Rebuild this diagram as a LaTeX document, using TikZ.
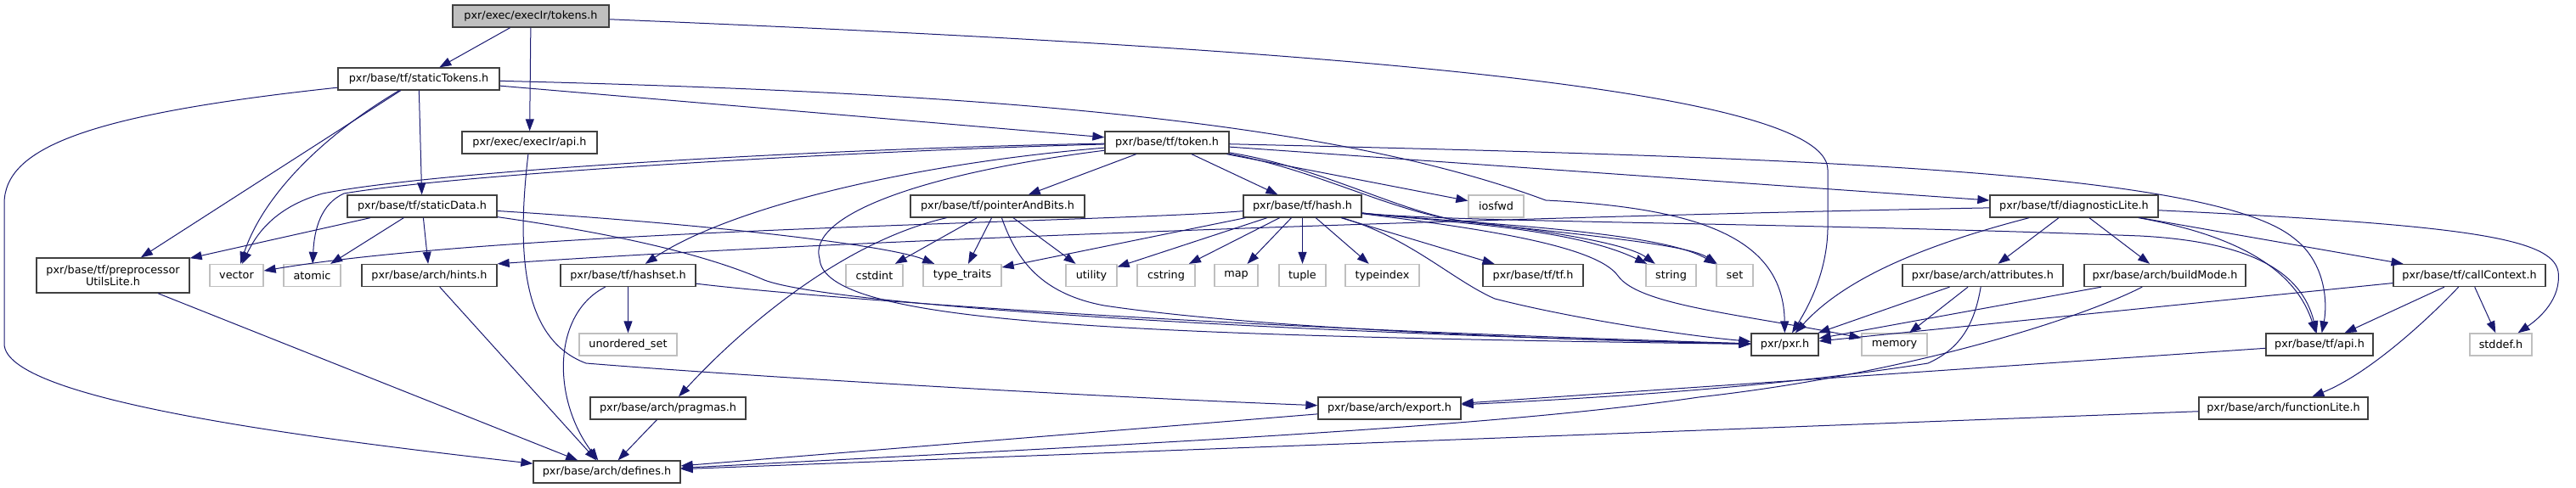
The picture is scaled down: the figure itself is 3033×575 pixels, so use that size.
\documentclass[tikz,border=0pt]{standalone}
\usepackage{fontspec}
\setmainfont{DejaVu Sans}
\usetikzlibrary{arrows.meta}
\definecolor{Edge}{HTML}{191970}
\definecolor{Border}{HTML}{404040}
\definecolor{Extern}{HTML}{BFBFBF}
\definecolor{Root}{HTML}{BFBFBF}
\tikzset{
    docfile/.style={rectangle, draw=Border, line width=1.3pt, fill=white, text=black, minimum height=26pt, inner sep=0pt, align=center, font={\fontsize{12.8}{13.5}\selectfont}},
    sysfile/.style={docfile, draw=Extern},
    rootfile/.style={docfile, fill=Root},
    incl/.style={-{Triangle[length=14pt,width=10pt]}, line width=1pt, color=Edge},
}
\begin{document}
\begin{tikzpicture}[x=1pt, y=-1pt]
    \useasboundingbox (0,0) rectangle (3033,575);

    % Files
    \node[rootfile, minimum width=184pt] (tokens) at (625,19) {pxr/exec/execIr/tokens.h};
    \node[docfile, minimum width=190pt] (statictokens) at (493,93) {pxr/base/tf/staticTokens.h};
    \node[docfile, minimum width=159pt] (execapi) at (623.5,168) {pxr/exec/execIr/api.h};
    \node[docfile, minimum width=146pt] (token) at (1374,168) {pxr/base/tf/token.h};
    \node[docfile, minimum width=176pt] (staticdata) at (497,243) {pxr/base/tf/staticData.h};
    \node[docfile, minimum width=205pt] (pointerbits) at (1174.5,243) {pxr/base/tf/pointerAndBits.h};
    \node[docfile, minimum width=139pt] (hash) at (1533.5,243) {pxr/base/tf/hash.h};
    \node[sysfile, minimum width=65pt] (iosfwd) at (1761.5,243) {iosfwd};
    \node[docfile, minimum width=198pt] (diaglite) at (2442,243) {pxr/base/tf/diagnosticLite.h};
    \node[docfile, minimum width=180pt, minimum height=41pt] (preproc) at (133,324.5) {pxr/base/tf/preprocessor\\UtilsLite.h};
    \node[sysfile, minimum width=63pt] (vector) at (278.5,324.5) {vector};
    \node[sysfile, minimum width=67pt] (atomic) at (367.5,324.5) {atomic};
    \node[docfile, minimum width=159pt] (hints) at (505.5,324.5) {pxr/base/arch/hints.h};
    \node[docfile, minimum width=159pt] (hashset) at (739.5,324.5) {pxr/base/tf/hashset.h};
    \node[sysfile, minimum width=67pt] (cstdint) at (1029.5,324.5) {cstdint};
    \node[sysfile, minimum width=92pt] (typetraits) at (1133,324.5) {type\_traits};
    \node[sysfile, minimum width=60pt] (utility) at (1285,324.5) {utility};
    \node[sysfile, minimum width=68pt] (cstring) at (1373,324.5) {cstring};
    \node[sysfile, minimum width=51pt] (map) at (1455.5,324.5) {map};
    \node[sysfile, minimum width=55pt] (tuple) at (1533.5,324.5) {tuple};
    \node[sysfile, minimum width=87pt] (typeindex) at (1627.5,324.5) {typeindex};
    \node[docfile, minimum width=118pt] (tfh) at (1805,324.5) {pxr/base/tf/tf.h};
    \node[sysfile, minimum width=59pt] (string) at (1967.5,324.5) {string};
    \node[sysfile, minimum width=43pt] (set) at (2042.5,324.5) {set};
    \node[docfile, minimum width=189pt] (attributes) at (2334.5,324.5) {pxr/base/arch/attributes.h};
    \node[docfile, minimum width=190pt] (buildmode) at (2549,324.5) {pxr/base/arch/buildMode.h};
    \node[docfile, minimum width=179pt] (callcontext) at (2907.5,324.5) {pxr/base/tf/callContext.h};
    \node[sysfile, minimum width=115pt] (unorderedset) at (739.5,406) {unordered\_set};
    \node[docfile, minimum width=79pt] (pxr) at (2101.5,406) {pxr/pxr.h};
    \node[sysfile, minimum width=77pt] (memory) at (2230.5,406) {memory};
    \node[docfile, minimum width=126pt] (tfapi) at (2731,406) {pxr/base/tf/api.h};
    \node[sysfile, minimum width=73pt] (stddef) at (2944.5,406) {stddef.h};
    \node[docfile, minimum width=183pt] (pragmas) at (786.5,481) {pxr/base/arch/pragmas.h};
    \node[docfile, minimum width=168pt] (export) at (1636,481) {pxr/base/arch/export.h};
    \node[docfile, minimum width=199pt] (functionlite) at (2688.5,481) {pxr/base/arch/functionLite.h};
    \node[docfile, minimum width=173pt] (defines) at (714.5,556) {pxr/base/arch/defines.h};

    % tokens.h
    \draw[incl] (tokens) -- (statictokens);
    \draw[incl] (tokens) -- (execapi);
    \draw[incl] (tokens) .. controls (1500,55) and (2152,100) .. (2152,200) -- (2152,270) .. controls (2151,320) and (2130,360) .. (pxr);

    % staticTokens.h
    \draw[incl] (statictokens) .. controls (100,135) and (5,175) .. (5,240) -- (5,405) .. controls (5,470) and (350,515) .. (defines);
    \draw[incl] (statictokens) -- (preproc);
    \draw[incl] (statictokens) .. controls (380,160) and (310,230) .. (vector);
    \draw[incl] (statictokens) -- (staticdata);
    \draw[incl] (statictokens) -- (token);
    \draw[incl] (statictokens) .. controls (1100,108) and (1550,135) .. (1820,236) .. controls (2000,245) and (2100,280) .. (pxr);

    % execIr/api.h
    \draw[incl] (execapi) .. controls (608,300) and (615,400) .. (690,428) .. controls (900,445) and (1300,468) .. (export);

    % staticData.h
    \draw[incl] (staticdata) -- (preproc);
    \draw[incl] (staticdata) -- (atomic);
    \draw[incl] (staticdata) -- (hints);
    \draw[incl] (staticdata) .. controls (850,265) and (1050,290) .. (typetraits);
    \draw[incl] (staticdata) .. controls (700,272) and (820,295) .. (900,330) .. controls (980,360) and (1500,392) .. (pxr);

    % token.h
    \draw[incl] (token) .. controls (1000,174) and (520,200) .. (380,228) .. controls (320,245) and (300,280) .. (vector);
    \draw[incl] (token) .. controls (1000,178) and (540,205) .. (405,228) .. controls (378,240) and (370,270) .. (atomic);
    \draw[incl] (token) .. controls (1050,195) and (850,250) .. (hashset);
    \draw[incl] (token) -- (pointerbits);
    \draw[incl] (token) -- (hash);
    \draw[incl] (token) -- (iosfwd);
    \draw[incl] (token) .. controls (1550,200) and (1640,250) .. (1720,260) .. controls (1850,275) and (1920,290) .. (string);
    \draw[incl] (token) .. controls (1560,198) and (1650,252) .. (1730,262) .. controls (1900,280) and (1990,290) .. (set);
    \draw[incl] (token) -- (diaglite);
    \draw[incl] (token) .. controls (1080,205) and (950,255) .. (965,305) .. controls (970,380) and (1300,395) .. (pxr);
    \draw[incl] (token) .. controls (2100,185) and (2600,200) .. (2700,280) .. controls (2740,310) and (2740,360) .. (tfapi);

    % pointerAndBits.h
    \draw[incl] (pointerbits) .. controls (990,285) and (870,390) .. (pragmas);
    \draw[incl] (pointerbits) -- (cstdint);
    \draw[incl] (pointerbits) -- (typetraits);
    \draw[incl] (pointerbits) -- (utility);
    \draw[incl] (pointerbits) .. controls (1195,300) and (1220,345) .. (1300,360) .. controls (1500,390) and (1900,402) .. (pxr);

    % hash.h
    \draw[incl] (hash) .. controls (1300,262) and (600,270) .. (vector);
    \draw[incl] (hash) -- (typetraits);
    \draw[incl] (hash) -- (utility);
    \draw[incl] (hash) -- (cstring);
    \draw[incl] (hash) -- (map);
    \draw[incl] (hash) -- (tuple);
    \draw[incl] (hash) -- (typeindex);
    \draw[incl] (hash) -- (tfh);
    \draw[incl] (hash) .. controls (1700,262) and (1850,268) .. (string);
    \draw[incl] (hash) .. controls (1700,262) and (1950,270) .. (set);
    \draw[incl] (hash) .. controls (1660,280) and (1710,330) .. (1760,352) .. controls (1850,375) and (1980,395) .. (pxr);
    \draw[incl] (hash) .. controls (1750,270) and (1880,290) .. (1905,325) .. controls (1930,360) and (2050,370) .. (memory);
    \draw[incl] (hash) .. controls (1700,262) and (2100,262) .. (2520,278) .. controls (2650,285) and (2710,320) .. (tfapi);

    % diagnosticLite.h
    \draw[incl] (diaglite) .. controls (1800,255) and (1000,282) .. (hints.north east);
    \draw[incl] (diaglite) .. controls (2260,290) and (2170,330) .. (pxr);
    \draw[incl] (diaglite) -- (attributes);
    \draw[incl] (diaglite) -- (buildmode);
    \draw[incl] (diaglite) .. controls (2620,275) and (2700,310) .. (tfapi);
    \draw[incl] (diaglite) -- (callcontext);
    \draw[incl] (diaglite) .. controls (2900,265) and (3005,280) .. (3012,320) .. controls (3016,352) and (2990,375) .. (stddef);

    % callContext.h
    \draw[incl] (callcontext) -- (pxr);
    \draw[incl] (callcontext) -- (tfapi);
    \draw[incl] (callcontext) .. controls (2860,375) and (2790,440) .. (functionlite);
    \draw[incl] (callcontext) -- (stddef);

    % arch headers
    \draw[incl] (attributes) -- (pxr);
    \draw[incl] (attributes) -- (memory);
    \draw[incl] (attributes) .. controls (2325,380) and (2310,410) .. (2270,428) .. controls (2100,455) and (1900,468) .. (export);
    \draw[incl] (buildmode) -- (pxr);
    \draw[incl] (buildmode) .. controls (2450,375) and (2250,440) .. (2000,468) .. controls (1750,505) and (1300,525) .. (defines);
    \draw[incl] (tfapi) -- (export);
    \draw[incl] (functionlite) -- (defines);
    \draw[incl] (export) -- (defines);

    % down to defines.h
    \draw[incl] (preproc) -- (defines);
    \draw[incl] (hints) -- (defines);
    \draw[incl] (hashset) -- (unorderedset);
    \draw[incl] (hashset) .. controls (650,370) and (650,470) .. (defines);
    \draw[incl] (hashset) .. controls (950,350) and (1400,385) .. (pxr);
    \draw[incl] (pragmas) -- (defines);
\end{tikzpicture}
\end{document}
